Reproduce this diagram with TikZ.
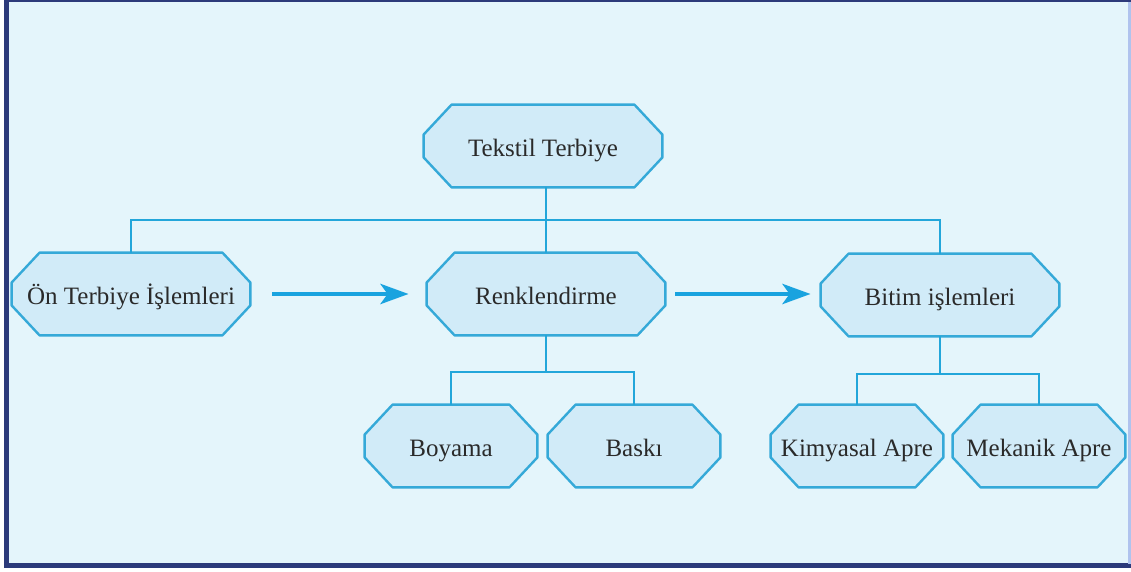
\documentclass[tikz,border=0pt]{standalone}
\usepackage{fontspec}
\setmainfont{Liberation Serif}
\usetikzlibrary{arrows.meta,backgrounds,positioning}

\definecolor{panel}{HTML}{E4F5FB}
\definecolor{framenavy}{HTML}{2C3A7A}
\definecolor{frameedge}{HTML}{AFC3EE}
\definecolor{boxfill}{HTML}{D1EBF8}
\definecolor{boxline}{HTML}{35A9D8}
\definecolor{linkblue}{HTML}{22A6DA}
\definecolor{arrowblue}{HTML}{19A3DF}
\definecolor{ink}{HTML}{2A2A2A}

\tikzset{
  box/.style={rectangle, text=ink, minimum width=119pt, minimum height=41pt,
    inner sep=0pt, text height=11pt, text depth=0pt,
    font=\fontsize{12.5}{15}\selectfont},
  leaf/.style={box, minimum width=86pt},
  boxpath/.style={draw=boxline, fill=boxfill, line width=1.2pt, line join=round},
  link/.style={draw=linkblue, line width=1pt},
  flow/.style={draw=arrowblue, line width=2.4pt,
    -{Stealth[length=14pt,width=10pt,inset=3.5pt]}}
}

\begin{document}
\begin{tikzpicture}[x=0.5pt,y=-0.5pt]
\useasboundingbox (0,0) rectangle (1131,572);

% nodes
\node[box] (tekstil) at (543,146) {Tekstil Terbiye};
\node[box] (onterbiye) at (131,294) {Ön Terbiye İşlemleri};
\node[box] (renk) at (546,294) {Renklendirme};
\node[box] (bitim) at (940,295) {Bitim işlemleri};
\node[leaf] (boyama) at (451,446) {Boyama};
\node[leaf] (baski) at (634,446) {Baskı};
\node[leaf] (kimyasal) at (857,446) {Kimyasal Apre};
\node[leaf] (mekanik) at (1039,446) {Mekanik Apre};

% panel, frame and the cut-corner boxes behind the text
\begin{scope}[on background layer]
\fill[panel] (6,1) rectangle (1128,566);
\foreach \n in {tekstil,onterbiye,renk,bitim,boyama,baski,kimyasal,mekanik}
  \draw[boxpath] ([xshift=14pt]\n.north west) -- ([xshift=-14pt]\n.north east)
    -- ([yshift=-15pt]\n.north east) -- ([yshift=15pt]\n.south east)
    -- ([xshift=-14pt]\n.south east) -- ([xshift=14pt]\n.south west)
    -- ([yshift=15pt]\n.south west) -- ([yshift=-15pt]\n.north west) -- cycle;
\end{scope}
\draw[framenavy, line width=2.5pt] (6.5,0) -- (6.5,568);
\draw[framenavy, line width=1.5pt] (4,1) -- (1131,1);
\draw[framenavy, line width=2.5pt] (4,565.5) -- (1131,565.5);
\draw[frameedge, line width=1.5pt] (1129.5,2) -- (1129.5,564);

% tree lines
\coordinate (top bar) at (546,220);
\coordinate (renk bar) at (546,372);
\coordinate (bitim bar) at (940,374);
\draw[link] (renk.north) -- (renk.north |- tekstil.south);
\draw[link] (onterbiye.north) |- (top bar) -| (bitim.north);
\draw[link] (renk.south) -- (renk bar);
\draw[link] (boyama.north) |- (renk bar) -| (baski.north);
\draw[link] (bitim.south) -- (bitim bar);
\draw[link] (kimyasal.north) |- (bitim bar) -| (mekanik.north);

% process arrows
\draw[flow, shorten <=11pt, shorten >=9pt] (onterbiye.east) -- (onterbiye.east -| renk.west);
\draw[flow, shorten <=5pt, shorten >=5pt] (renk.east) -- (renk.east -| bitim.west);
\end{tikzpicture}
\end{document}
